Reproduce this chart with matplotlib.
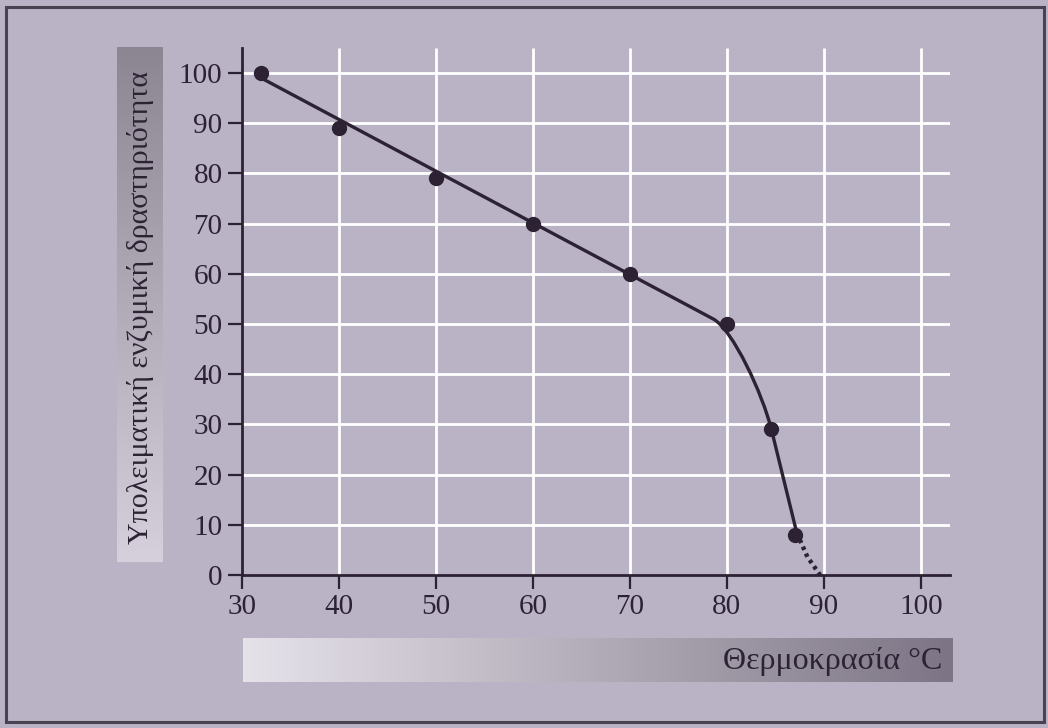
import numpy as np
import matplotlib
matplotlib.use("Agg")
import matplotlib.pyplot as plt
from matplotlib.patches import Rectangle, PathPatch
from matplotlib.path import Path

# Measured activity at each temperature
temperature = [32, 40, 50, 60, 70, 80, 84.5, 87]
activity = [100, 89, 79, 70, 60, 50, 29, 8]

# Trend curve: straight fall, a bend (cubic Bezier vertices), then a steep drop
trend_x = [32, 78.6, 80.6, 83.7, 84.6, 87.2]
trend_y = [99, 51.0, 48.9, 36.0, 28.9, 8.4]
trend_codes = [Path.MOVETO, Path.LINETO, Path.CURVE4, Path.CURVE4, Path.CURVE4, Path.LINETO]
# Extrapolated tail towards zero activity
tail_x = [87.2, 88.3, 89.6]
tail_y = [8.4, 3.6, 0]

x_ticks = [30, 40, 50, 60, 70, 80, 90, 100]
y_ticks = [0, 10, 20, 30, 40, 50, 60, 70, 80, 90, 100]

x_label = "Θερμοκρασία °C"
y_label = "Υπολειματική ενζυμική δραστηριότητα"

bg = "#bab3c5"
ink = "#2c2233"
serif = ["Liberation Serif", "DejaVu Serif"]

fig = plt.figure(figsize=(10.48, 7.28), dpi=100, facecolor=bg)

# page frame
fig.patches.append(Rectangle((0.006, 0.008), 0.99, 0.982, transform=fig.transFigure,
                             fill=False, edgecolor="#4a4250", lw=2.2))


def gradient_panel(rect, horizontal, c_from, c_to):
    ax_g = fig.add_axes(rect)
    n = 256
    a = np.array(matplotlib.colors.to_rgb(c_from))
    b = np.array(matplotlib.colors.to_rgb(c_to))
    t = np.linspace(0, 1, n)
    img = a[None, :] * (1 - t[:, None]) + b[None, :] * t[:, None]
    img = img[None, :, :] if horizontal else img[:, None, :]
    ax_g.imshow(img, aspect="auto", origin="upper")
    ax_g.set_axis_off()
    return ax_g


# vertical panel behind the y label: dark at top, light at bottom
gradient_panel([117 / 1048, 1 - 562 / 728, 46 / 1048, 515 / 728], False, "#8c8592", "#d6d0dc")
# horizontal panel behind the x label: light on left, dark on right
gradient_panel([243 / 1048, 1 - 682 / 728, 709 / 1048, 44 / 728], True, "#e6e2ea", "#7d7585")

fig.text(141 / 1048, 1 - 308 / 728, y_label, rotation=90, ha="center", va="center",
         fontsize=21.5, family=serif, color=ink)
fig.text(942 / 1048, 1 - 661 / 728, x_label, ha="right", va="center",
         fontsize=23, family=serif, color=ink)

ax = fig.add_axes([242 / 1048, 1 - 575 / 728, 708 / 1048, 527 / 728])
ax.set_facecolor("none")
ax.set_xlim(30, 103)
ax.set_ylim(0, 105)

for xv in x_ticks[1:]:
    ax.plot([xv, xv], [0, 105], color="white", lw=2.0, zorder=1, solid_capstyle="butt")
for yv in y_ticks[1:]:
    ax.plot([30, 103], [yv, yv], color="white", lw=2.0, zorder=1, solid_capstyle="butt")

trend = Path(np.column_stack([trend_x, trend_y]), trend_codes)
ax.add_patch(PathPatch(trend, fill=False, edgecolor=ink, lw=2.4, zorder=3,
                       capstyle="round", joinstyle="round"))
ax.plot(tail_x, tail_y, color=ink, lw=3.2, ls=(0, (0.8, 0.9)), zorder=3)
ax.plot(temperature, activity, "o", color=ink, markersize=10, zorder=4)

for side in ("top", "right"):
    ax.spines[side].set_visible(False)
for side in ("left", "bottom"):
    ax.spines[side].set_color(ink)
    ax.spines[side].set_linewidth(2.0)

ax.set_xticks(x_ticks)
ax.set_yticks(y_ticks)
ax.tick_params(axis="both", direction="out", length=10, width=1.6, color=ink,
               labelcolor=ink, labelsize=21, pad=4)
for lbl in ax.get_xticklabels() + ax.get_yticklabels():
    lbl.set_family(serif)

fig.savefig("out.png", dpi=100, facecolor=bg)
